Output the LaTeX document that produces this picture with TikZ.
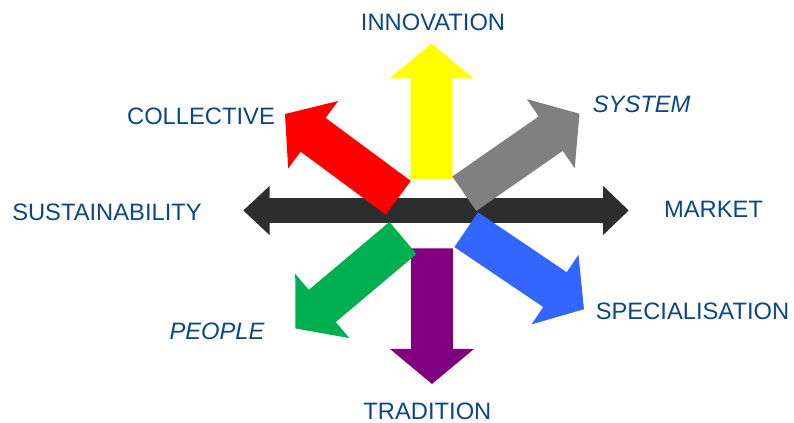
\documentclass[tikz,border=0pt]{standalone}
\usepackage{fontspec}
\setmainfont{Liberation Sans}
\usetikzlibrary{calc}

\definecolor{labelblue}{RGB}{12,70,132}
\definecolor{axisgrey}{RGB}{45,45,45}
\definecolor{arrowyellow}{RGB}{255,255,0}
\definecolor{arrowred}{RGB}{255,0,0}
\definecolor{arrowgrey}{RGB}{128,128,128}
\definecolor{arrowblue}{RGB}{51,102,255}
\definecolor{arrowgreen}{RGB}{0,176,80}
\definecolor{arrowpurple}{RGB}{128,0,128}

% Block arrow from tail coordinate #2 to tip coordinate #3, filled with #1.
% Shaft half width 15.75pt, head half width 31.5pt, head length 26.25pt.
\newcommand{\blockarrow}[4]{%
  \coordinate (#4-b) at ($(#3)!26.25pt!(#2)$);
  \fill[#1] ($(#2)!15.75pt!90:(#3)$) -- ($(#4-b)!15.75pt!90:(#3)$)
    -- ($(#4-b)!31.5pt!90:(#3)$) -- (#3)
    -- ($(#4-b)!31.5pt!-90:(#3)$) -- ($(#4-b)!15.75pt!-90:(#3)$)
    -- ($(#2)!15.75pt!-90:(#3)$) -- cycle;
}

\begin{document}
\begin{tikzpicture}[x=0.75pt,y=-0.75pt,
  lbl/.style={text=labelblue,inner sep=0pt,anchor=base,
    font=\fontsize{17.8}{20}\selectfont},
  ilbl/.style={lbl,font=\fontsize{17.8}{20}\selectfont\itshape}]
\useasboundingbox (0,0) rectangle (794,423);

% horizontal double-headed axis
\coordinate (axL) at (243.3,210.5);
\coordinate (axR) at (628.7,210.5);
\fill[axisgrey] (axL) -- (269.5,186) -- (269.5,198.2) -- (603.2,198.2)
  -- (603.2,186) -- (axR) -- (603.2,235) -- (603.2,222.8)
  -- (269.5,222.8) -- (269.5,235) -- cycle;

% tails and tips of the six block arrows
\coordinate (yT) at (431.5,179);   \coordinate (yP) at (431.5,43.5);
\coordinate (pT) at (432,248.5);   \coordinate (pP) at (432,384);
\coordinate (rT) at (398.3,197.8); \coordinate (rP) at (285,114);
\coordinate (gT) at (464.3,193.7); \coordinate (gP) at (579.5,113.7);
\coordinate (bT) at (466.2,229.7); \coordinate (bP) at (584,309.2);
\coordinate (nT) at (403,238);     \coordinate (nP) at (295.5,328.5);

\blockarrow{arrowyellow}{yT}{yP}{ya}
\blockarrow{arrowpurple}{pT}{pP}{pa}
\blockarrow{arrowgreen}{nT}{nP}{na}
\blockarrow{arrowblue}{bT}{bP}{ba}
\blockarrow{arrowred}{rT}{rP}{ra}
\blockarrow{arrowgrey}{gT}{gP}{ga}

% labels
\node[lbl]  (innovation)     at (433,30.7)    {INNOVATION};
\node[lbl]  (collective)     at (201,124.3)   {COLLECTIVE};
\node[ilbl] (system)         at (641.7,112.7) {SYSTEM};
\node[lbl]  (sustainability) at (107,221)     {SUSTAINABILITY};
\node[lbl]  (market)         at (713.5,217.3) {MARKET};
\node[ilbl] (people)         at (217,340)     {PEOPLE};
\node[lbl]  (specialisation) at (692.5,319.3) {SPECIALISATION};
\node[lbl]  (tradition)      at (427.4,419.7) {TRADITION};
\end{tikzpicture}
\end{document}
